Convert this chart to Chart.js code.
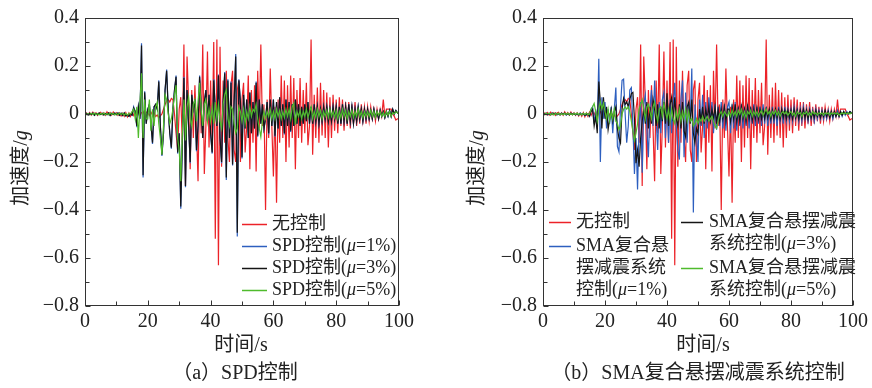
<!DOCTYPE html>
<html>
<head>
<meta charset="utf-8">
<script src="https://cdn.jsdelivr.net/npm/chart.js@4.4.1/dist/chart.umd.min.js"></script>
<style>
  html, body { margin: 0; padding: 0; background: #fff; }
  #wrap { width: 872px; height: 388px; display: flex; }
  canvas { display: block; }
</style>
</head>
<body>
<div id="wrap">
  <canvas id="panelA" width="436" height="388"></canvas>
  <canvas id="panelB" width="436" height="388"></canvas>
</div>
<script>
// time base (s), one sample every 0.5 s
const time = [
  0, 0.5, 1, 1.5, 2, 2.5, 3, 3.5, 4, 4.5, 5, 5.5, 6, 6.5, 7, 7.5, 8, 8.5, 9, 9.5,
  10, 10.5, 11, 11.5, 12, 12.5, 13, 13.5, 14, 14.5, 15, 15.5, 16, 16.5, 17, 17.5, 18, 18.5, 19, 19.5,
  20, 20.5, 21, 21.5, 22, 22.5, 23, 23.5, 24, 24.5, 25, 25.5, 26, 26.5, 27, 27.5, 28, 28.5, 29, 29.5,
  30, 30.5, 31, 31.5, 32, 32.5, 33, 33.5, 34, 34.5, 35, 35.5, 36, 36.5, 37, 37.5, 38, 38.5, 39, 39.5,
  40, 40.5, 41, 41.5, 42, 42.5, 43, 43.5, 44, 44.5, 45, 45.5, 46, 46.5, 47, 47.5, 48, 48.5, 49, 49.5,
  50, 50.5, 51, 51.5, 52, 52.5, 53, 53.5, 54, 54.5, 55, 55.5, 56, 56.5, 57, 57.5, 58, 58.5, 59, 59.5,
  60, 60.5, 61, 61.5, 62, 62.5, 63, 63.5, 64, 64.5, 65, 65.5, 66, 66.5, 67, 67.5, 68, 68.5, 69, 69.5,
  70, 70.5, 71, 71.5, 72, 72.5, 73, 73.5, 74, 74.5, 75, 75.5, 76, 76.5, 77, 77.5, 78, 78.5, 79, 79.5,
  80, 80.5, 81, 81.5, 82, 82.5, 83, 83.5, 84, 84.5, 85, 85.5, 86, 86.5, 87, 87.5, 88, 88.5, 89, 89.5,
  90, 90.5, 91, 91.5, 92, 92.5, 93, 93.5, 94, 94.5, 95, 95.5, 96, 96.5, 97, 97.5, 98, 98.5, 99, 99.5, 100
];

// 无控制 (same in both panels)
const noCtrl = [
  0, 0.004, -0.003, 0.006, -0.004, 0.008, -0.002, 0.005, -0.006, 0.004, 0.007, -0.003, 0.005, -0.005, 0.009, -0.002, 0.006, -0.004, 0.008, -0.003,
  0.005, -0.006, 0.004, -0.008, 0.003, -0.01, 0.006, -0.012, 0.004, -0.01, 0.008, -0.006, 0.01, -0.004, 0.012, -0.008, 0.006, 0.01, -0.006, 0.008,
  0.004, -0.006, 0.008, -0.004, 0.006, -0.01, -0.004, -0.016, -0.008, 0.0, 0.02, 0.04, 0.055, 0.06, 0.05, 0.065, 0.06, 0.0, -0.08, -0.15,
  0.02, 0.07, -0.12, 0.29, -0.30, 0.24, 0.05, -0.23, 0.10, -0.10, 0.12, -0.06, -0.28, 0.14, -0.08, 0.29, -0.25, -0.05, 0.26, -0.14,
  0.14, -0.12, 0.30, -0.52, 0.31, -0.63, 0.28, -0.22, 0.14, -0.12, 0.18, -0.10, -0.20, 0.12, 0.18, -0.15, -0.20, 0.10, 0.14, -0.20,
  0.06, 0.13, -0.16, -0.05, 0.16, -0.23, 0.10, -0.12, 0.12, -0.24, 0.18, -0.06, 0.29, -0.05, 0.04, -0.40, 0.06, -0.10, 0.19, -0.05,
  -0.26, 0.03, -0.37, 0.06, -0.12, 0.16, -0.10, 0.14, -0.20, 0.12, -0.14, 0.16, -0.10, 0.15, -0.23, 0.10, -0.10, 0.15, -0.12, 0.10,
  -0.08, 0.13, -0.13, -0.05, 0.31, -0.17, 0.08, -0.10, 0.11, -0.12, 0.13, -0.09, 0.10, -0.10, 0.09, -0.14, 0.07, -0.10, 0.08, -0.07,
  0.06, -0.08, 0.07, -0.05, 0.06, -0.07, 0.05, -0.05, 0.05, -0.06, 0.04, -0.04, 0.05, -0.05, 0.03, -0.04, 0.04, -0.03, 0.03, -0.04,
  0.03, -0.03, 0.03, -0.02, 0.02, -0.03, 0.02, -0.02, 0.02, -0.01, 0.06, -0.01, 0.02, 0.02, 0.02, 0.02, 0.0, -0.01, -0.025, -0.02, -0.02
];

// (a) SPD控制
const spd1 = [
  0.005, 0.002, -0.004, 0.003, -0.002, 0.004, -0.005, 0.002, -0.003, 0.004, -0.002, 0.003, -0.004, 0.002, -0.003, 0.004, -0.006, 0.003, -0.002, 0.004,
  -0.003, 0.004, -0.005, 0.003, -0.006, 0.004, -0.008, -0.004, -0.01, 0.0, -0.005, 0.03, 0.01, -0.055, 0.03, -0.02, 0.295, -0.265, 0.095, -0.04,
  0.02, 0.04, -0.045, -0.125, 0.03, 0.04, 0.02, 0.14, -0.05, -0.175, -0.08, 0.10, 0.185, 0.02, -0.08, -0.145, 0.02, 0.10, 0.16, -0.165,
  -0.08, -0.395, -0.12, 0.155, -0.305, 0.10, -0.05, -0.205, 0.08, 0.02, 0.06, -0.155, -0.05, 0.16, 0.02, -0.10, 0.05, 0.10, -0.03, 0.08,
  -0.08, -0.165, 0.145, 0.02, -0.05, 0.165, -0.10, -0.205, 0.05, 0.175, -0.275, 0.145, -0.10, 0.135, -0.215, 0.05, 0.25, -0.51, 0.145, 0.05,
  -0.185, 0.08, -0.06, 0.06, -0.10, 0.09, -0.08, 0.05, -0.06, 0.135, -0.095, 0.06, -0.04, 0.04, -0.06, -0.02, 0.05, -0.085, 0.06, -0.05,
  0.06, -0.095, 0.05, -0.06, 0.07, -0.05, 0.04, -0.085, 0.06, -0.05, 0.05, -0.075, 0.04, -0.05, 0.06, -0.04, 0.04, -0.05, 0.03, -0.04,
  0.04, -0.03, 0.05, -0.04, 0.03, -0.04, 0.04, -0.03, 0.03, -0.04, 0.02, -0.03, 0.03, -0.02, 0.03, -0.03, 0.02, -0.03, 0.03, -0.02,
  0.03, -0.04, 0.03, -0.04, 0.04, -0.03, 0.03, -0.04, 0.04, -0.03, 0.03, -0.04, 0.02, -0.03, 0.03, -0.02, 0.02, -0.03, 0.02, -0.02,
  0.02, -0.02, 0.015, -0.02, 0.02, -0.015, 0.01, -0.02, 0.015, -0.01, 0.01, -0.015, 0.01, -0.01, 0.015, -0.01, 0.02, 0.0, 0.015, 0.005, 0.0
];
const spd3 = [
  0.005, 0.002, -0.004, 0.003, -0.002, 0.004, -0.005, 0.002, -0.003, 0.004, -0.002, 0.003, -0.004, 0.002, -0.003, 0.004, -0.006, 0.003, -0.002, 0.004,
  -0.003, 0.004, -0.005, 0.003, -0.006, 0.004, -0.008, -0.004, -0.01, 0.0, -0.005, 0.025, 0.01, -0.05, 0.03, -0.02, 0.285, -0.255, 0.09, -0.04,
  0.02, 0.04, -0.04, -0.12, 0.03, 0.04, 0.02, 0.135, -0.05, -0.17, -0.08, 0.10, 0.18, 0.02, -0.08, -0.14, 0.02, 0.10, 0.155, -0.16,
  -0.08, -0.385, -0.12, 0.15, -0.30, 0.10, -0.05, -0.20, 0.08, 0.02, 0.06, -0.15, -0.05, 0.155, 0.02, -0.10, 0.05, 0.10, -0.03, 0.08,
  -0.08, -0.16, 0.14, 0.02, -0.05, 0.16, -0.10, -0.20, 0.05, 0.17, -0.265, 0.14, -0.10, 0.13, -0.21, 0.05, 0.24, -0.495, 0.14, 0.05,
  -0.18, 0.08, -0.06, 0.06, -0.10, 0.09, -0.08, 0.05, -0.06, 0.13, -0.09, 0.06, -0.04, 0.04, -0.06, -0.02, 0.05, -0.08, 0.06, -0.05,
  0.06, -0.09, 0.05, -0.06, 0.07, -0.05, 0.04, -0.08, 0.06, -0.05, 0.05, -0.07, 0.04, -0.05, 0.06, -0.04, 0.04, -0.05, 0.03, -0.04,
  0.04, -0.03, 0.05, -0.04, 0.03, -0.04, 0.04, -0.03, 0.03, -0.04, 0.02, -0.03, 0.03, -0.02, 0.03, -0.03, 0.02, -0.03, 0.03, -0.02,
  0.03, -0.04, 0.03, -0.04, 0.04, -0.03, 0.03, -0.04, 0.04, -0.03, 0.03, -0.04, 0.02, -0.03, 0.03, -0.02, 0.02, -0.03, 0.02, -0.02,
  0.02, -0.02, 0.015, -0.02, 0.02, -0.015, 0.01, -0.02, 0.015, -0.01, 0.01, -0.015, 0.01, -0.01, 0.015, -0.01, 0.02, 0.0, 0.015, 0.005, 0.0
];
const spd5 = [
  0.004, -0.003, 0.002, -0.004, 0.003, -0.002, 0.004, -0.003, 0.002, -0.004, 0.003, -0.002, 0.004, -0.003, 0.002, -0.003, 0.004, -0.002, 0.003, -0.004,
  0.002, -0.003, 0.004, -0.002, 0.003, -0.004, 0.002, -0.005, 0.003, 0.0, 0.01, 0.02, -0.02, 0.03, -0.10, 0.04, 0.17, -0.10, 0.06, -0.02,
  -0.02, 0.06, -0.07, 0.02, -0.05, 0.03, 0.05, -0.04, -0.10, -0.17, -0.05, 0.08, 0.06, 0.0, -0.04, -0.02, 0.02, 0.08, 0.12, -0.10,
  -0.15, -0.28, -0.08, 0.06, -0.11, 0.03, 0.07, -0.02, -0.05, 0.04, 0.06, -0.03, 0.05, 0.13, 0.02, -0.05, 0.04, 0.06, -0.03, 0.02,
  -0.03, 0.03, -0.04, 0.05, -0.02, 0.04, -0.03, -0.06, 0.04, 0.08, 0.10, -0.02, -0.05, 0.03, 0.02, -0.04, -0.08, -0.06, 0.03, 0.01,
  -0.03, 0.02, -0.04, 0.01, -0.02, 0.03, -0.01, 0.02, 0.01, 0.04, -0.02, -0.06, -0.095, -0.03, 0.01, -0.02, 0.01, -0.01, 0.02, -0.02,
  0.01, -0.02, 0.02, -0.01, 0.015, -0.02, 0.01, -0.015, 0.02, -0.01, 0.02, -0.02, 0.03, 0.045, -0.045, 0.01, -0.01, 0.015, -0.02, 0.01,
  -0.01, 0.02, -0.015, 0.01, 0.03, -0.02, 0.01, -0.015, 0.02, -0.01, 0.015, -0.02, 0.01, -0.01, 0.015, -0.015, 0.02, -0.01, 0.01, -0.015,
  0.015, -0.02, 0.01, -0.015, 0.02, -0.01, 0.015, -0.02, 0.01, -0.01, 0.015, -0.015, 0.01, -0.01, 0.02, -0.01, 0.01, -0.015, 0.01, -0.01,
  0.01, -0.01, 0.015, -0.01, 0.01, -0.015, 0.01, -0.005, 0.01, -0.01, 0.005, -0.01, 0.01, -0.005, 0.01, -0.01, 0.005, 0.0, 0.01, 0.005, 0.0
];

// (b) SMA复合悬摆减震系统控制
const sma1 = [
  0.004, -0.002, 0.003, -0.004, 0.002, -0.003, 0.005, -0.002, 0.003, -0.004, 0.002, -0.003, 0.004, -0.002, 0.003, -0.005, 0.002, -0.003, 0.004, -0.002,
  0.003, -0.004, 0.002, -0.005, 0.004, -0.003, 0.002, -0.006, -0.004, 0.0, -0.01, 0.02, 0.03, -0.04, 0.02, -0.06, 0.23, -0.20, 0.07, -0.02,
  0.05, -0.06, 0.02, -0.04, 0.03, -0.08, 0.02, 0.11, -0.135, -0.157, 0.03, 0.14, 0.145, 0.0, -0.12, -0.05, 0.10, 0.11, -0.05, -0.25,
  -0.10, -0.315, -0.05, 0.05, -0.245, 0.04, 0.08, -0.06, -0.18, 0.02, 0.10, -0.05, 0.14, -0.02, -0.15, 0.05, -0.08, 0.06, 0.09, -0.10,
  0.05, -0.12, 0.06, -0.08, 0.04, 0.13, -0.05, -0.15, -0.19, 0.06, 0.14, -0.18, 0.09, -0.12, 0.05, -0.03, 0.19, -0.41, 0.04, -0.08,
  -0.20, 0.06, -0.05, 0.08, -0.10, 0.05, -0.06, 0.07, -0.04, 0.05, -0.08, 0.04, -0.065, 0.03, -0.05, 0.05, -0.06, 0.04, -0.07, 0.03,
  0.05, -0.08, 0.04, -0.06, 0.05, -0.07, 0.03, -0.05, 0.04, -0.06, 0.03, -0.05, 0.04, -0.06, 0.03, -0.04, 0.04, -0.05, 0.03, -0.04,
  0.03, -0.05, 0.04, -0.04, 0.03, -0.05, 0.02, -0.04, 0.03, -0.04, 0.02, -0.05, 0.03, -0.03, 0.02, -0.04, 0.03, -0.03, 0.02, -0.03,
  0.02, -0.03, 0.03, -0.02, 0.02, -0.03, 0.02, -0.03, 0.03, -0.02, 0.02, -0.03, 0.02, -0.02, 0.015, -0.03, 0.02, -0.02, 0.015, -0.02,
  0.015, -0.02, 0.01, -0.02, 0.015, -0.015, 0.01, -0.02, 0.01, -0.01, 0.015, -0.01, 0.01, -0.01, 0.01, -0.005, 0.01, 0.0, 0.01, 0.005, 0.0
];
const sma3 = [
  0.003, -0.002, 0.004, -0.003, 0.002, -0.004, 0.003, -0.002, 0.004, -0.003, 0.002, -0.004, 0.003, -0.002, 0.004, -0.003, 0.002, -0.004, 0.003, -0.002,
  0.002, -0.003, 0.003, -0.004, 0.002, -0.003, 0.003, -0.005, -0.003, 0.0, -0.008, 0.01, 0.02, -0.05, -0.01, -0.08, 0.135, 0.05, -0.06, 0.07,
  -0.02, 0.03, -0.065, -0.02, 0.02, -0.03, 0.01, 0.03, -0.06, -0.10, -0.12, 0.02, 0.065, 0.04, 0.05, 0.03, 0.06, 0.085, 0.09, -0.02,
  -0.205, -0.15, -0.22, -0.10, -0.03, 0.02, -0.04, 0.05, -0.06, 0.03, -0.04, 0.06, 0.02, -0.05, 0.04, -0.06, 0.03, -0.03, 0.05, -0.04,
  0.086, -0.05, 0.04, 0.07, -0.03, 0.07, -0.02, -0.05, 0.04, -0.06, 0.05, -0.07, -0.095, 0.03, 0.05, -0.04, 0.06, -0.08, -0.12, -0.06,
  -0.08, 0.02, -0.03, 0.03, -0.04, 0.02, -0.02, 0.03, -0.03, 0.02, -0.02, 0.03, -0.04, 0.02, -0.03, 0.02, -0.02, 0.03, -0.03, 0.02,
  0.02, -0.03, 0.03, -0.02, 0.04, -0.03, 0.02, -0.03, 0.03, -0.02, 0.02, -0.03, 0.03, -0.02, 0.02, -0.025, 0.02, -0.02, 0.025, -0.02,
  0.02, -0.02, 0.015, -0.02, 0.02, -0.015, 0.02, -0.02, 0.015, -0.02, 0.02, -0.015, 0.015, -0.02, 0.02, -0.015, 0.015, -0.02, 0.015, -0.015,
  0.015, -0.02, 0.02, -0.015, 0.015, -0.02, 0.015, -0.015, 0.02, -0.015, 0.015, -0.02, 0.015, -0.015, 0.01, -0.015, 0.015, -0.01, 0.01, -0.015,
  0.01, -0.01, 0.015, -0.01, 0.01, -0.015, 0.01, -0.01, 0.01, -0.01, 0.005, -0.01, 0.01, -0.005, 0.01, 0.0, 0.005, 0.0, 0.01, 0.005, 0.0
];
const sma5 = [
  0.002, -0.003, 0.003, -0.002, 0.004, -0.003, 0.002, -0.004, 0.003, -0.002, 0.004, -0.003, 0.002, -0.003, 0.003, -0.002, 0.004, -0.003, 0.002, -0.004,
  0.003, -0.002, 0.004, -0.003, 0.002, -0.004, 0.003, -0.002, 0.004, -0.003, 0.0, 0.02, 0.03, 0.044, 0.01, -0.03, 0.02, 0.05, 0.02, 0.045,
  0.01, -0.02, 0.02, -0.03, 0.01, -0.02, 0.02, -0.03, -0.04, -0.065, -0.05, 0.0, 0.02, 0.03, 0.02, 0.03, 0.01, -0.03, -0.07, -0.11,
  -0.08, -0.04, 0.02, 0.04, 0.06, 0.02, -0.02, 0.03, 0.04, 0.01, -0.02, 0.03, 0.05, 0.0, -0.03, 0.02, 0.03, -0.01, 0.045, 0.01,
  -0.02, 0.02, -0.03, 0.02, -0.02, -0.04, 0.01, -0.02, 0.02, -0.03, 0.01, -0.02, 0.02, -0.03, 0.01, -0.03, -0.02, -0.05, -0.04, -0.02,
  -0.04, -0.02, -0.03, -0.01, -0.03, -0.02, -0.01, -0.03, -0.02, -0.01, -0.03, -0.05, -0.06, -0.03, 0.0, 0.01, -0.01, 0.01, 0.0, -0.01,
  0.01, -0.01, 0.015, -0.005, 0.01, -0.01, 0.015, 0.0, 0.02, -0.01, 0.01, -0.015, 0.01, 0.0, 0.015, -0.01, 0.01, -0.005, 0.01, -0.01,
  0.005, 0.015, -0.005, 0.01, 0.02, 0.0, 0.01, -0.01, 0.01, 0.0, 0.015, -0.005, 0.01, -0.01, 0.005, 0.01, 0.0, 0.01, -0.005, 0.005,
  0.01, -0.005, 0.005, -0.01, 0.01, 0.0, 0.005, -0.01, 0.005, 0.0, 0.01, -0.005, 0.005, -0.005, 0.01, 0.0, 0.005, -0.005, 0.005, 0.0,
  0.005, -0.005, 0.005, 0.0, 0.005, -0.005, 0.005, 0.0, 0.005, 0.0, 0.005, -0.005, 0.0, 0.005, 0.0, 0.005, 0.0, 0.005, 0.0, 0.005, 0.005
];

const RED = '#ec2228', BLUE = '#2d5fbf', BLACK = '#151515', GREEN = '#4fbb2c';
const FONT = "'Liberation Serif', 'Noto Sans CJK SC', serif";
const INK = '#222';

function pts(vals) {
  if (vals.length !== time.length) throw new Error('series length ' + vals.length);
  return time.map((t, i) => ({ x: t, y: vals[i] }));
}

// draw text made of normal / italic pieces
function richText(ctx, parts, x, y, size, align) {
  const widths = parts.map(([s, it]) => {
    ctx.font = (it ? 'italic ' : '') + size + 'px ' + FONT;
    return ctx.measureText(s).width;
  });
  const total = widths.reduce((a, b) => a + b, 0);
  let cx = align === 'center' ? x - total / 2 : x;
  ctx.textAlign = 'left';
  ctx.textBaseline = 'middle';
  parts.forEach(([s, it], i) => {
    ctx.font = (it ? 'italic ' : '') + size + 'px ' + FONT;
    ctx.fillText(s, cx, y);
    cx += widths[i];
  });
}

function decor(o) {
  return {
    id: 'decor',
    afterDraw(chart) {
      const { ctx, chartArea: a, scales: { x, y } } = chart;
      ctx.save();
      ctx.strokeStyle = '#333';
      ctx.lineWidth = 1;
      const L = Math.round(a.left) + 0.5, R = Math.round(a.right) - 0.5;
      const T = Math.round(a.top) + 0.5, B = Math.round(a.bottom) - 0.5;
      ctx.strokeRect(L, T, R - L, B - T);
      ctx.beginPath();
      for (let v = -8; v <= 4; v++) {
        const py = Math.round(y.getPixelForValue(v / 10)) + 0.5;
        ctx.moveTo(L, py);
        ctx.lineTo(L + (v % 2 === 0 ? 5 : 4), py);
      }
      for (let t = 0; t <= 100; t += 10) {
        const px = Math.round(x.getPixelForValue(t)) + 0.5;
        ctx.moveTo(px, B);
        ctx.lineTo(px, B - (t % 20 === 0 ? 5 : 4));
      }
      ctx.stroke();

      ctx.fillStyle = INK;
      // axis titles and caption
      richText(ctx, [['时间/', false], ['s', false]], o.xTitleX, 346, 20, 'center');
      richText(ctx, o.caption, o.captionX, 374, 20, 'center');
      ctx.save();
      ctx.translate(o.yTitleX, 168);
      ctx.rotate(-Math.PI / 2);
      richText(ctx, [['加速度/', false], ['g', true]], 0, 0, 20, 'center');
      ctx.restore();

      // legend
      o.legend.forEach(item => {
        ctx.strokeStyle = item.color;
        ctx.lineWidth = 1.5;
        ctx.beginPath();
        ctx.moveTo(item.x1, item.y + 0.5);
        ctx.lineTo(item.x2, item.y + 0.5);
        ctx.stroke();
        ctx.fillStyle = INK;
        item.text.forEach((parts, k) => {
          richText(ctx, parts, item.tx, item.y + k * 22, 18, 'left');
        });
      });
      ctx.restore();
    }
  };
}

function makeChart(id, series, o) {
  return new Chart(document.getElementById(id), {
    type: 'line',
    data: {
      datasets: series.map(s => ({
        label: s.label,
        data: pts(s.values),
        borderColor: s.color,
        borderWidth: 1.2,
        pointRadius: 0,
        tension: 0,
        order: s.order
      }))
    },
    options: {
      responsive: false,
      animation: false,
      events: [],
      layout: { padding: { left: 0, top: 18, right: o.padRight, bottom: 0 } },
      plugins: { legend: { display: false }, tooltip: { enabled: false } },
      scales: {
        x: {
          type: 'linear', min: 0, max: 100,
          grid: { display: false, drawTicks: false },
          border: { display: false },
          ticks: { stepSize: 20, padding: 4, maxRotation: 0, color: INK, font: { family: FONT, size: 20 } },
          afterFit: s => { s.height = 82; }
        },
        y: {
          min: -0.8, max: 0.4,
          grid: { display: false, drawTicks: false },
          border: { display: false },
          ticks: {
            stepSize: 0.2, padding: 6, color: INK, font: { family: FONT, size: 20 },
            callback: v => Math.abs(v) < 1e-9 ? '0' : v.toFixed(1).replace('-', '\u2212')
          },
          afterFit: s => { s.width = o.yWidth; }
        }
      }
    },
    plugins: [decor(o)]
  });
}

// draw order: red at the bottom, green on top
makeChart('panelA', [
  { label: '无控制', values: noCtrl, color: RED, order: 3 },
  { label: 'SPD控制(μ=1%)', values: spd1, color: BLUE, order: 2 },
  { label: 'SPD控制(μ=3%)', values: spd3, color: BLACK, order: 1 },
  { label: 'SPD控制(μ=5%)', values: spd5, color: GREEN, order: 0 }
], {
  yWidth: 85, padRight: 37, xTitleX: 241, captionX: 235, yTitleX: 22,
  caption: [['（a）SPD控制', false]],
  legend: [
    { color: RED, x1: 242, x2: 267, y: 224, tx: 272, text: [[['无控制', false]]] },
    { color: BLUE, x1: 242, x2: 267, y: 246, tx: 272, text: [[['SPD控制(', false], ['μ', true], ['=1%)', false]]] },
    { color: BLACK, x1: 242, x2: 267, y: 268, tx: 272, text: [[['SPD控制(', false], ['μ', true], ['=3%)', false]]] },
    { color: GREEN, x1: 242, x2: 267, y: 290, tx: 272, text: [[['SPD控制(', false], ['μ', true], ['=5%)', false]]] }
  ]
});

makeChart('panelB', [
  { label: '无控制', values: noCtrl, color: RED, order: 3 },
  { label: 'SMA复合悬摆减震系统控制(μ=1%)', values: sma1, color: BLUE, order: 2 },
  { label: 'SMA复合悬摆减震系统控制(μ=3%)', values: sma3, color: BLACK, order: 1 },
  { label: 'SMA复合悬摆减震系统控制(μ=5%)', values: sma5, color: GREEN, order: 0 }
], {
  yWidth: 107, padRight: 16, xTitleX: 267, captionX: 262, yTitleX: 42,
  caption: [['（b）SMA复合悬摆减震系统控制', false]],
  legend: [
    { color: RED, x1: 113, x2: 135, y: 222, tx: 140, text: [[['无控制', false]]] },
    { color: BLUE, x1: 113, x2: 135, y: 246, tx: 140, text: [[['SMA复合悬', false]], [['摆减震系统', false]], [['控制(', false], ['μ', true], ['=1%)', false]]] },
    { color: BLACK, x1: 245, x2: 267, y: 222, tx: 273, text: [[['SMA复合悬摆减震', false]], [['系统控制(', false], ['μ', true], ['=3%)', false]]] },
    { color: GREEN, x1: 245, x2: 267, y: 268, tx: 273, text: [[['SMA复合悬摆减震', false]], [['系统控制(', false], ['μ', true], ['=5%)', false]]] }
  ]
});
</script>
</body>
</html>
